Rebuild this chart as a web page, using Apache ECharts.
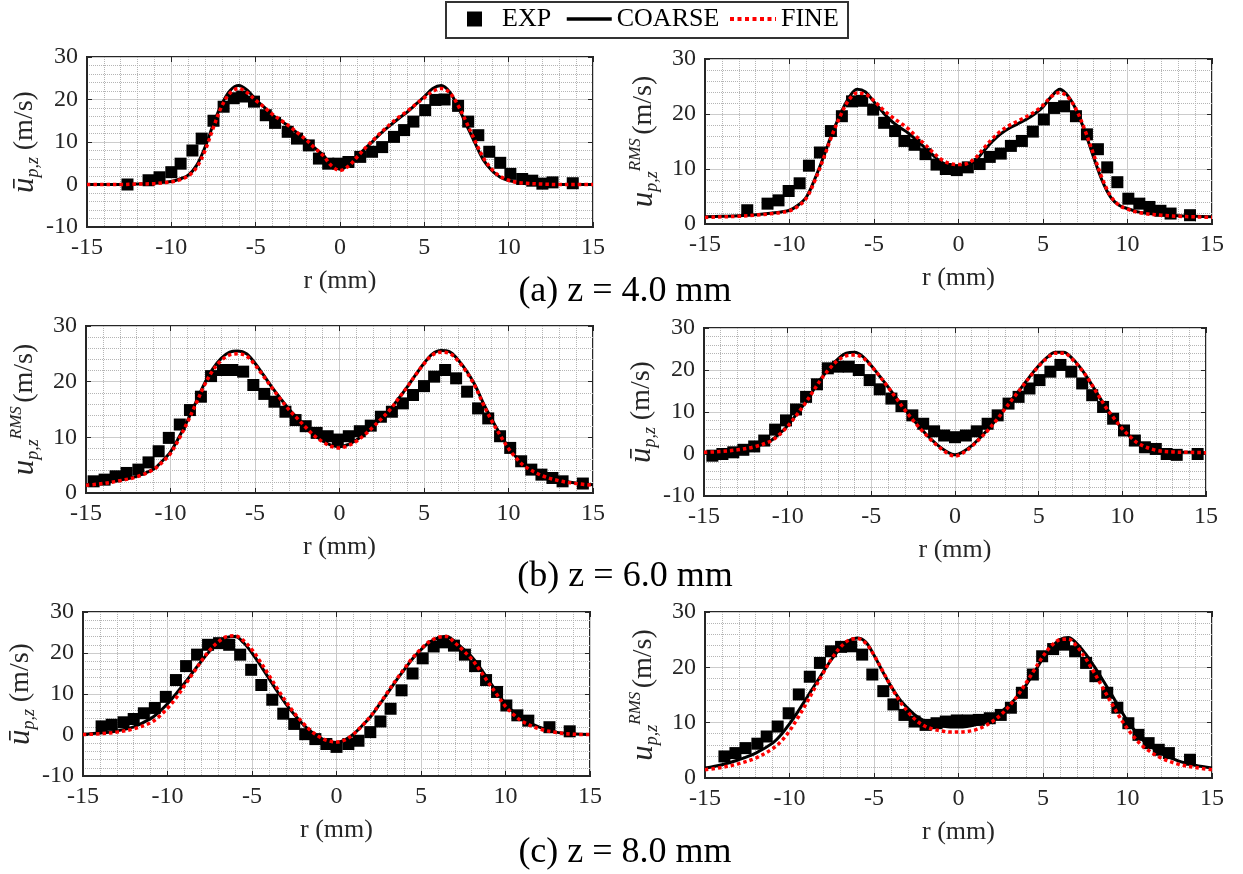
<!DOCTYPE html>
<html><head><meta charset="utf-8">
<script src="https://cdn.jsdelivr.net/npm/echarts@6/dist/echarts.min.js"></script>
<style>html,body{margin:0;padding:0;background:#fff}#c{width:1243px;height:874px}</style>
</head><body><div id="c"></div>
<script>
// ---------- DATA ----------
const xTicks = [-15, -10, -5, 0, 5, 10, 15];
const captions = ['(a) z = 4.0 mm', '(b) z = 6.0 mm', '(c) z = 8.0 mm'];
const legendNames = ['EXP', 'COARSE', 'FINE'];

// radial positions of the simulation curves (mm)
const rModel = [-15,-14,-13,-12,-11,
  -10.5,-10,-9.5,-9,-8.5,-8,-7.5,-7,-6.5,-6,
  -5.5,-5,-4.5,-4,-3.5,-3,-2.5,-2,-1.5,-1,
  -0.5,0,0.5,1,1.5,2,2.5,3,3.5,4,
  4.5,5,5.5,6,6.5,7,7.5,8,8.5,9,
  9.5,10,10.5,11,12,13,14,15];

// (a) z = 4 mm, mean axial velocity
const ua4Coarse = [0,0,0,0.1,0.3,
  0.5,0.7,1.3,2.2,4.5,8.8,14.3,19.0,22.2,23.3,
  22.2,20.0,18.2,16.3,15.0,13.6,12.0,10.4,8.6,6.9,
  4.6,3.6,4.5,6.5,8.5,10.4,12.3,14.0,15.6,17.1,
  18.9,20.7,22.6,23.3,21.8,18.2,14.0,9.8,5.8,3.3,
  1.7,0.9,0.5,0.3,0.1,0,0,0];
const ua4Fine = [0,0,0,0.1,0.2,
  0.4,0.6,1.1,2.0,4.0,8.0,13.5,18.5,21.6,22.6,
  21.6,19.8,18.2,16.5,15.1,13.7,12.1,10.5,8.6,6.8,
  4.4,3.3,4.3,6.4,8.6,10.6,12.5,14.3,15.9,17.3,
  18.9,20.4,21.9,22.6,21.6,18.6,14.6,10.3,6.3,3.6,
  1.9,1.0,0.5,0.3,0.1,0,0,0];
const ua4ExpR = [-12.6,-11.35,-10.7,-10.0,-9.45,-8.75,-8.2,-7.5,-6.9,-6.3,-5.8,-5.1,-4.4,-3.85,-3.1,-2.55,-1.85,-1.25,-0.7,-0.1,0.5,1.2,1.9,2.5,3.2,3.8,4.35,5.05,5.65,6.2,7.0,7.6,8.2,8.85,9.5,10.1,10.8,11.4,12.0,12.6,13.8];
const ua4ExpV = [0,1.0,1.7,2.9,4.9,8.0,10.8,15.0,18.3,20.3,20.7,19.5,16.3,14.5,12.4,10.8,9.2,6.1,4.9,4.9,5.3,6.5,7.7,8.8,11.2,12.8,14.8,17.5,19.9,20.0,18.5,14.8,11.6,7.7,5.1,2.5,1.3,0.9,0.2,0.5,0.3];

// (a) z = 4 mm, RMS axial velocity
const urms4Coarse = [1.3,1.4,1.5,1.7,2.0,
  2.2,2.5,3.4,4.9,8.2,12.1,16.3,19.9,22.9,24.5,
  24.0,22.2,20.4,18.8,17.6,16.6,15.3,13.9,12.5,11.2,
  10.6,10.3,10.6,11.5,13.3,15.0,16.4,17.4,18.2,19.0,
  20.0,21.3,23.2,24.5,23.2,20.5,16.6,12.1,7.9,4.9,
  3.4,2.8,2.3,2.0,1.7,1.5,1.4,1.3];
const urms4Fine = [1.2,1.3,1.4,1.6,1.9,
  2.1,2.4,3.2,4.7,7.9,11.8,16.0,19.6,22.5,23.8,
  23.6,22.4,20.9,19.6,18.5,17.4,15.9,14.5,13.0,11.7,
  11.0,10.8,11.0,12.0,13.8,15.5,16.9,17.9,18.7,19.5,
  20.4,21.6,23.2,23.9,23.0,20.6,16.9,12.6,8.3,5.1,
  3.4,2.7,2.2,1.9,1.6,1.4,1.3,1.2];
const urms4ExpR = [-12.5,-11.3,-10.65,-10.05,-9.4,-8.85,-8.2,-7.55,-6.9,-6.3,-5.7,-5.05,-4.4,-3.75,-3.2,-2.6,-1.95,-1.3,-0.75,-0.1,0.55,1.25,1.85,2.5,3.1,3.75,4.4,5.05,5.65,6.25,6.95,7.6,8.25,8.8,9.4,10.05,10.7,11.3,11.95,12.55,13.7];
const urms4ExpV = [2.5,3.7,4.3,6.0,7.4,10.6,13.0,16.9,19.6,22.3,22.4,20.8,18.4,16.9,15.1,14.4,12.7,10.8,10.0,9.8,10.3,10.9,12.2,12.8,14.2,15.1,16.8,19.0,21.1,21.4,19.6,16.3,13.6,10.3,7.6,4.6,3.7,3.1,2.4,1.9,1.6];

// (b) z = 6 mm, RMS axial velocity
const urms6Coarse = [1.5,1.8,2.3,3.0,4.3,
  5.7,7.4,10.0,13.0,16.3,19.6,22.3,24.2,25.3,25.5,
  25.0,23.3,21.2,19.0,17.0,15.1,13.5,12.0,10.5,9.4,
  8.6,8.3,8.7,9.5,10.7,12.0,13.5,15.0,17.0,19.0,
  21.2,23.3,25.0,25.6,25.4,24.0,22.0,19.5,16.2,13.3,
  10.6,8.2,6.3,4.9,3.2,2.3,1.8,1.5];
const urms6Fine = [1.4,1.7,2.2,2.9,4.2,
  5.5,7.1,9.7,12.7,16.0,19.3,22.0,23.8,24.8,25.0,
  24.6,23.0,21.0,18.9,16.9,15.0,13.4,11.8,10.3,9.2,
  8.4,8.1,8.5,9.3,10.5,11.9,13.4,15.0,17.0,19.0,
  21.2,23.2,24.8,25.3,25.1,23.8,21.8,19.3,16.0,13.0,
  10.4,8.0,6.1,4.7,3.1,2.2,1.7,1.4];
const urms6ExpR = [-14.55,-13.9,-13.25,-12.6,-11.9,-11.3,-10.7,-10.1,-9.45,-8.85,-8.2,-7.6,-6.9,-6.35,-5.7,-5.1,-4.45,-3.85,-3.2,-2.6,-2.0,-1.35,-0.7,-0.1,0.55,1.2,1.85,2.45,3.1,3.75,4.35,5.0,5.6,6.25,6.9,7.55,8.2,8.8,9.5,10.1,10.75,11.35,11.95,12.6,13.2,14.4];
const urms6ExpV = [2.1,2.4,3.0,3.6,4.2,5.5,7.5,9.9,12.3,14.9,17.3,21.0,22.1,22.1,21.8,19.4,17.8,16.4,14.6,13.1,12.0,10.8,10.2,9.6,10.2,11.1,12.1,13.7,14.6,16.1,17.6,19.2,20.9,22.1,20.6,18.2,15.2,13.4,10.2,8.1,5.7,4.2,3.3,2.7,2.1,1.7];

// (b) z = 6 mm, mean axial velocity
const ua6Coarse = [0.4,0.6,1.0,1.8,3.2,
  4.8,6.8,9.3,12.0,15.0,18.0,20.5,22.6,24.0,24.2,
  23.2,21.0,18.5,16.0,13.3,10.7,8.2,5.9,3.8,2.0,
  0.6,-0.2,0.6,2.0,3.9,6.0,8.4,11.0,13.5,16.0,
  18.6,21.0,23.0,24.2,24.2,22.8,20.5,17.6,14.4,11.2,
  8.5,6.0,4.0,2.4,0.9,0.5,0.4,0.3];
const ua6Fine = [0.4,0.6,1.0,1.7,3.1,
  4.6,6.6,9.1,11.8,14.8,17.8,20.3,22.3,23.4,23.6,
  22.9,20.9,18.5,15.9,13.2,10.5,8.0,5.7,3.6,1.8,
  0.3,-0.5,0.3,1.8,3.7,5.8,8.2,10.8,13.4,15.9,
  18.5,20.9,22.8,24.0,24.0,22.6,20.4,17.6,14.4,11.2,
  8.5,6.0,4.0,2.4,0.9,0.5,0.4,0.3];
const ua6ExpR = [-14.5,-13.9,-13.25,-12.65,-12.0,-11.4,-10.75,-10.1,-9.5,-8.9,-8.25,-7.6,-7.0,-6.35,-5.75,-5.1,-4.5,-3.8,-3.2,-2.55,-1.9,-1.25,-0.65,0,0.65,1.3,1.95,2.55,3.2,3.8,4.45,5.05,5.7,6.3,6.95,7.6,8.2,8.85,9.45,10.1,10.75,11.35,12.0,12.65,13.25,14.5];
const ua6ExpV = [-0.4,0,0.4,1.0,1.8,3.2,5.8,8.0,10.6,13.6,16.6,20.4,20.8,20.8,20.0,17.6,15.4,13.2,11.4,9.2,7.2,5.4,4.4,4.0,4.4,5.4,7.2,9.2,12.0,13.6,15.6,17.6,19.6,21.2,19.6,16.8,14.0,11.2,8.4,5.6,3.2,1.6,1.2,0,-0.2,0];

// (c) z = 8 mm, mean axial velocity
const ua8Coarse = [0.2,0.5,1.0,2.0,4.0,
  5.6,7.6,10.0,12.6,15.3,18.0,20.5,22.4,23.8,24.0,
  22.5,20.0,17.0,13.8,10.6,7.6,5.0,2.7,0.8,-0.6,
  -1.5,-1.8,-1.2,0.2,2.2,4.4,7.2,10.1,13.1,15.9,
  18.6,20.8,22.6,23.7,24.1,22.8,21.0,19.1,16.4,13.4,
  10.4,7.6,5.5,3.9,1.9,0.7,0.3,0.1];
const ua8Fine = [0.1,0.3,0.7,1.5,3.0,
  4.5,6.5,9.0,12.0,15.0,18.0,20.7,22.7,24.0,24.2,
  23.0,20.8,17.8,14.6,11.3,8.2,5.4,3.0,1.0,-0.5,
  -1.4,-1.7,-1.2,0.2,2.2,4.5,7.3,10.3,13.3,16.1,
  18.8,21.0,22.8,23.8,24.0,22.5,20.6,18.5,15.7,12.7,
  9.8,7.0,4.9,3.3,1.5,0.6,0.2,0.1];
const ua8ExpR = [-13.9,-13.3,-12.6,-12.0,-11.4,-10.75,-10.1,-9.5,-8.9,-8.25,-7.6,-6.95,-6.35,-5.7,-5.05,-4.45,-3.8,-3.15,-2.5,-1.85,-1.25,-0.6,0,0.7,1.3,2.0,2.6,3.2,3.85,4.5,5.1,5.75,6.3,6.95,7.6,8.2,8.85,9.5,10.05,10.7,11.35,12.6,13.8];
const ua8ExpV = [2.1,2.5,3.1,3.9,5.3,6.6,9.3,13.4,16.8,19.6,22.0,22.4,22.0,19.6,15.9,12.2,8.6,5.2,2.7,0.2,-1.0,-2.2,-2.9,-2.2,-1.4,0.7,3.3,6.4,10.9,15.0,18.7,21.6,22.6,21.8,19.6,16.8,13.4,10.5,7.2,4.8,3.5,1.9,0.9];

// (c) z = 8 mm, RMS axial velocity
const urms8Coarse = [1.8,2.4,3.3,4.5,6.3,
  7.8,9.8,12.0,14.4,16.8,19.2,21.5,23.4,24.8,25.3,
  24.6,22.2,19.3,16.6,14.3,12.6,11.2,10.3,9.7,9.4,
  9.2,9.2,9.3,9.6,10.1,10.9,11.9,13.2,14.8,16.8,
  19.2,21.6,23.6,25.0,25.4,24.3,22.5,20.3,17.9,15.4,
  12.8,10.3,8.3,6.6,4.5,3.1,2.3,1.8];
const urms8Fine = [1.5,1.9,2.6,3.6,5.3,
  6.6,8.5,10.9,13.5,16.3,19.0,21.6,23.6,24.9,25.2,
  24.4,22.2,19.4,16.6,14.0,12.0,10.4,9.4,8.8,8.5,
  8.3,8.3,8.4,8.7,9.3,10.2,11.4,13.0,14.9,17.2,
  19.6,22.0,23.9,25.0,25.1,23.8,21.7,19.2,16.5,13.8,
  11.2,8.9,7.0,5.5,3.6,2.5,1.9,1.5];
const urms8ExpR = [-13.85,-13.2,-12.6,-11.9,-11.35,-10.7,-10.05,-9.45,-8.8,-8.2,-7.55,-6.95,-6.35,-5.7,-5.1,-4.45,-3.85,-3.2,-2.6,-1.95,-1.3,-0.75,-0.1,0.55,1.2,1.85,2.5,3.1,3.75,4.4,4.95,5.6,6.25,6.9,7.55,8.1,8.8,9.4,10.05,10.65,11.25,11.85,12.45,13.7];
const urms8ExpV = [3.9,4.5,5.4,6.2,7.5,9.3,11.7,15.1,18.3,20.8,22.9,23.7,23.8,22.3,18.7,15.7,13.3,11.4,10.2,9.6,9.9,10.2,10.4,10.4,10.5,10.8,11.4,12.7,15.4,18.7,22.0,23.3,24.1,22.9,20.8,18.4,15.4,12.7,9.9,7.8,6.3,5.1,4.5,3.3];

// ---------- PANELS ----------
const FONT = '"Liberation Serif", "Times New Roman", serif';
const INK = '#262626';
const panels = [
  {kind:'mean', coarse:ua4Coarse, fine:ua4Fine, er:ua4ExpR, ev:ua4ExpV,
   box:{left:87, top:57, width:506, height:170}},
  {kind:'rms', coarse:urms4Coarse, fine:urms4Fine, er:urms4ExpR, ev:urms4ExpV,
   box:{left:705, top:59, width:507, height:165}},
  {kind:'rms', coarse:urms6Coarse, fine:urms6Fine, er:urms6ExpR, ev:urms6ExpV,
   box:{left:86, top:326, width:507, height:167}},
  {kind:'mean', coarse:ua6Coarse, fine:ua6Fine, er:ua6ExpR, ev:ua6ExpV,
   box:{left:704, top:328, width:502, height:168}},
  {kind:'mean', coarse:ua8Coarse, fine:ua8Fine, er:ua8ExpR, ev:ua8ExpV,
   box:{left:83, top:612, width:507, height:164}},
  {kind:'rms', coarse:urms8Coarse, fine:urms8Fine, er:urms8ExpR, ev:urms8ExpV,
   box:{left:705, top:612, width:507, height:166}}
];
const captionPos = [{x:625, y:292}, {x:625, y:577}, {x:625, y:853}];

const zip = (a, b) => a.map((v, i) => [v, b[i]]);
const richName = {
  u: {fontFamily: FONT, fontStyle:'italic', fontSize: 31, color: INK, lineHeight: 34, verticalAlign:'middle'},
  s: {fontFamily: FONT, fontStyle:'italic', fontSize: 18, color: INK, verticalAlign:'bottom', lineHeight: 18},
  p: {fontFamily: FONT, fontStyle:'italic', fontSize: 17, color: INK, verticalAlign:'top', lineHeight: 17},
  n: {fontFamily: FONT, fontSize: 28, color: INK, verticalAlign:'middle'}
};

const grids = [], xAxes = [], yAxes = [], series = [];
panels.forEach((p, i) => {
  const ymin = p.kind === 'mean' ? -10 : 0;
  grids.push(Object.assign({show:true, borderColor: INK, borderWidth: 2, backgroundColor:'#fff', containLabel:false}, p.box));
  xAxes.push({
    type:'value', gridIndex:i, min:-15, max:15, interval:5, position:'bottom',
    axisLine:{show:true, onZero:false, lineStyle:{color:INK, width:2}},
    axisTick:{show:true, inside:true, length:5, lineStyle:{color:INK, width:1}},
    axisLabel:{fontFamily:FONT, fontSize:24, color:INK, margin:9},
    splitLine:{show:true, lineStyle:{color:'#cccccc', width:1}},
    minorTick:{show:false, splitNumber:5},
    minorSplitLine:{show:true, lineStyle:{color:'#b5b5b5', width:1, type:'dotted'}},
    name:'r (mm)', nameLocation:'middle', nameGap:41,
    nameTextStyle:{fontFamily:FONT, fontSize:26, color:INK}
  });
  xAxes.push({
    type:'value', gridIndex:i, min:-15, max:15, interval:5, position:'top',
    axisLine:{show:false, onZero:false}, axisTick:{show:true, inside:true, length:5, lineStyle:{color:INK}},
    axisLabel:{show:false}, splitLine:{show:false}
  });
  yAxes.push({
    type:'value', gridIndex:i, min:ymin, max:30, interval:10, position:'left',
    axisLine:{show:true, onZero:false, lineStyle:{color:INK, width:2}},
    axisTick:{show:true, inside:true, length:5, lineStyle:{color:INK, width:1}},
    axisLabel:{fontFamily:FONT, fontSize:24, color:INK, margin:9},
    splitLine:{show:true, lineStyle:{color:'#cccccc', width:1}},
    minorTick:{show:false, splitNumber:5},
    minorSplitLine:{show:true, lineStyle:{color:'#b5b5b5', width:1, type:'dotted'}},
    name: p.kind === 'mean' ? '{u|ū}{s|p,z}  {n|(m/s)}' : '{u|u}{s|p,z}{p|RMS} {n|(m/s)}',
    nameLocation:'middle', nameRotate:90, nameGap:44,
    nameTextStyle:{rich: richName}
  });
  yAxes.push({
    type:'value', gridIndex:i, min:ymin, max:30, interval:10, position:'right',
    axisLine:{show:false, onZero:false}, axisTick:{show:true, inside:true, length:5, lineStyle:{color:INK}},
    axisLabel:{show:false}, splitLine:{show:false}
  });
  const xi = 2 * i, yi = 2 * i;
  series.push({
    type:'scatter', name:legendNames[0], xAxisIndex:xi, yAxisIndex:yi, z:2,
    symbol:'rect', symbolSize:12, itemStyle:{color:'#000', opacity:1},
    data: zip(p.er, p.ev), emphasis:{disabled:true}
  });
  series.push({
    type:'line', name:legendNames[1], xAxisIndex:xi, yAxisIndex:yi, z:3,
    symbol:'none', showSymbol:false, smooth:0.35,
    lineStyle:{color:'#000', width:3}, itemStyle:{color:'#000'},
    data: zip(rModel, p.coarse), emphasis:{disabled:true}
  });
  series.push({
    type:'line', name:legendNames[2], xAxisIndex:xi, yAxisIndex:yi, z:4,
    symbol:'none', showSymbol:false, smooth:0.35,
    lineStyle:{color:'#ff0000', width:3.5, type:[3.5,3]}, itemStyle:{color:'#ff0000'},
    data: zip(rModel, p.fine), emphasis:{disabled:true}
  });
});

const graphics = captions.map((t, i) => ({
  type:'text', x: captionPos[i].x, y: captionPos[i].y, z: 10,
  style:{text:t, fontFamily:FONT, fontSize:36, fill:'#000',
         align:'center', verticalAlign:'middle', textAlign:'center', textVerticalAlign:'middle'}
}));
// legend frame
graphics.push({type:'rect', z:-1, shape:{x:446, y:2, width:402, height:36},
  style:{fill:'#fff', stroke:'#333', lineWidth:2}});

const legendText = {fontFamily:FONT, fontSize:26, color:'#000'};
const legends = [
  {left:467, top:6, padding:0, selectedMode:false, itemWidth:15, itemHeight:15,
   textStyle:Object.assign({padding:[0,0,0,15]}, legendText),
   data:[{name:legendNames[0], icon:'path://M0,0L10,0L10,10L0,10Z'}]},
  {left:565, top:6, padding:0, selectedMode:false, itemWidth:45, itemHeight:14,
   itemStyle:{opacity:0, color:'rgba(0,0,0,0)', borderWidth:0},
   lineStyle:{width:3.5, color:'#000', type:'solid'},
   textStyle:legendText, data:[{name:legendNames[1]}]},
  {left:728, top:6, padding:0, selectedMode:false, itemWidth:46, itemHeight:14,
   itemStyle:{opacity:0, color:'rgba(0,0,0,0)', borderWidth:0},
   lineStyle:{width:4, color:'#ff0000', type:[4,3.5]},
   textStyle:legendText, data:[{name:legendNames[2]}]}
];

const chart = echarts.init(document.getElementById('c'), null, {renderer:'canvas'});
chart.setOption({
  animation:false,
  backgroundColor:'#fff',
  legend: legends,
  grid: grids, xAxis: xAxes, yAxis: yAxes, series: series, graphic: graphics
});
</script></body></html>
